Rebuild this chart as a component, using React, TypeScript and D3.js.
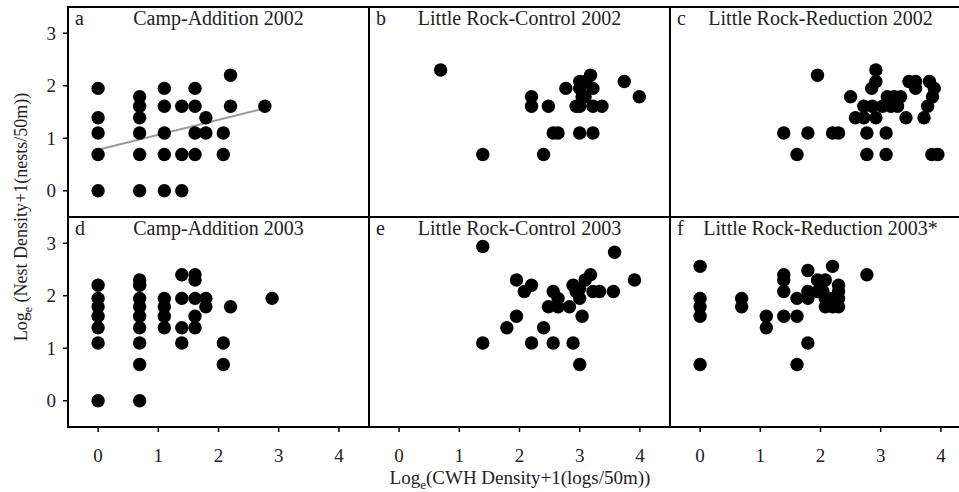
import React from "react";
import * as d3 from "d3";

const panelLetters = ["a", "b", "c", "d", "e", "f"];
const panelTitles = [
  "Camp-Addition 2002",
  "Little Rock-Control 2002",
  "Little Rock-Reduction 2002",
  "Camp-Addition 2003",
  "Little Rock-Control 2003",
  "Little Rock-Reduction 2003*",
];
const xTicks = [0, 1, 2, 3, 4];
const yTicks = [0, 1, 2, 3];

const campAdd2002: [number, number][] = [
  [0, 1.95], [0, 1.39], [0, 1.1], [0, 0.69], [0, 0],
  [0.69, 1.79], [0.69, 1.61], [0.69, 1.39], [0.69, 1.1], [0.69, 0.69], [0.69, 0],
  [1.1, 1.95], [1.1, 1.61], [1.1, 1.1], [1.1, 0.69], [1.1, 0],
  [1.39, 1.61], [1.39, 0.69], [1.39, 0],
  [1.61, 1.95], [1.61, 1.61], [1.61, 1.1], [1.61, 0.69],
  [1.79, 1.39], [1.79, 1.1],
  [2.08, 1.1], [2.08, 0.69],
  [2.2, 2.2], [2.2, 1.61],
  [2.77, 1.61],
];
const campAdd2002Fit = [[0, 0.78], [2.77, 1.57]];

const lrControl2002: [number, number][] = [
  [0.69, 2.3], [1.39, 0.69], [2.4, 0.69], [2.2, 1.79], [2.2, 1.61], [2.48, 1.61],
  [2.56, 1.1], [2.64, 1.1], [2.77, 1.95], [3.0, 1.1], [3.22, 1.1], [3.18, 2.2],
  [3.0, 2.08], [3.09, 2.08], [3.0, 1.95], [3.22, 1.95], [3.04, 1.79], [3.09, 1.79],
  [2.94, 1.61], [3.0, 1.61], [3.22, 1.61], [3.37, 1.61], [3.74, 2.08], [3.99, 1.79],
];

const lrReduction2002: [number, number][] = [
  [1.95, 2.2], [1.39, 1.1], [1.79, 1.1], [1.61, 0.69], [2.2, 1.1], [2.3, 1.1],
  [2.77, 1.1], [3.09, 1.1], [2.77, 0.69], [3.09, 0.69], [3.85, 0.69], [3.95, 0.69],
  [2.92, 2.3], [2.92, 2.08], [2.85, 1.95], [2.5, 1.79], [2.72, 1.61], [2.86, 1.61],
  [2.58, 1.39], [2.72, 1.39], [2.92, 1.39], [3.03, 1.61], [3.17, 1.61], [3.28, 1.61],
  [3.11, 1.79], [3.22, 1.79], [3.33, 1.79], [3.42, 1.39], [3.72, 1.39],
  [3.47, 2.08], [3.58, 2.08], [3.58, 1.95], [3.81, 2.08], [3.89, 1.95], [3.86, 1.79],
  [3.78, 1.61],
];

const campAdd2003: [number, number][] = [
  [0, 2.2], [0, 1.95], [0, 1.79], [0, 1.61], [0, 1.39], [0, 1.1], [0, 0],
  [0.69, 2.3], [0.69, 2.2], [0.69, 1.95], [0.69, 1.79], [0.69, 1.61], [0.69, 1.39],
  [0.69, 1.1], [0.69, 0.69], [0.69, 0],
  [1.1, 1.95], [1.1, 1.79], [1.1, 1.61], [1.1, 1.39],
  [1.39, 2.4], [1.39, 1.95], [1.39, 1.39], [1.39, 1.1],
  [1.61, 2.4], [1.61, 2.3], [1.61, 1.95], [1.61, 1.61], [1.61, 1.39],
  [1.79, 1.95], [1.79, 1.79],
  [2.2, 1.79], [2.08, 1.1], [2.08, 0.69],
  [2.89, 1.95],
];

const lrControl2003: [number, number][] = [
  [1.39, 2.94], [1.39, 1.1], [3.58, 2.83], [3.91, 2.3], [1.95, 2.3], [2.2, 2.2],
  [2.08, 2.08], [1.95, 1.61], [1.79, 1.39], [2.2, 1.1], [2.4, 1.39], [2.56, 1.1],
  [2.89, 1.1], [3.0, 0.69], [3.04, 1.61], [2.48, 1.79], [2.64, 1.79], [2.83, 1.79],
  [2.56, 2.08], [2.64, 1.95], [2.89, 2.2], [2.94, 2.08], [3.0, 1.95], [3.0, 2.14],
  [3.09, 2.3], [3.18, 2.4], [3.22, 2.08], [3.33, 2.08], [3.56, 2.08],
];

const lrReduction2003: [number, number][] = [
  [0, 2.56], [0, 1.95], [0, 1.79], [0, 1.61], [0, 0.69],
  [0.69, 1.95], [0.69, 1.79],
  [1.1, 1.61], [1.1, 1.39],
  [1.39, 2.4], [1.39, 2.3], [1.39, 2.08], [1.39, 1.61],
  [1.61, 1.95], [1.61, 1.61], [1.61, 0.69],
  [1.79, 2.48], [1.79, 2.08], [1.79, 1.95], [1.79, 1.1],
  [2.2, 2.56], [1.95, 2.3], [2.08, 2.3], [1.95, 2.08], [2.04, 2.08],
  [2.08, 1.95], [2.08, 1.79], [2.2, 1.95], [2.2, 1.79],
  [2.3, 2.2], [2.3, 2.08], [2.3, 1.95], [2.3, 1.79],
  [2.77, 2.4],
];

const panelData = [campAdd2002, lrControl2002, lrReduction2002, campAdd2003, lrControl2003, lrReduction2003];

const FONT = "'Liberation Serif', 'Times New Roman', serif";
const W = 959;
const H = 492;
const pLeft = [68, 369, 670];
const pTop = [7, 217];
const pw = 301;
const ph = 210;

export default function App() {
  const x = d3.scaleLinear().domain([-0.5, 4.5]).range([0, pw]);
  const y = d3.scaleLinear().domain([-0.5, 3.5]).range([ph, 0]);
  const line = d3.line<number[]>().x((d) => x(d[0])).y((d) => y(d[1]));

  return (
    <div style={{ position: "fixed", left: 0, top: 0, background: "#fff" }}>
      <svg width={W} height={H} style={{ display: "block", fontFamily: FONT }}>
        <rect width={W} height={H} fill="#fff" />
        {panelData.map((pts, i) => {
          const col = i % 3;
          const row = Math.floor(i / 3);
          const tx = pLeft[col];
          const ty = pTop[row];
          return (
            <g key={i} transform={`translate(${tx},${ty})`}>
              <rect x={0} y={0} width={pw} height={ph} fill="none" stroke="#000" strokeWidth={2} />
              <text x={7} y={18} fontSize={20} fill="#222">{panelLetters[i]}</text>
              <text x={pw / 2} y={18} fontSize={20} textAnchor="middle" fill="#222">{panelTitles[i]}</text>
              {i === 0 && (
                <path d={line(campAdd2002Fit) || ""} stroke="#9a9a9a" strokeWidth={2} fill="none" />
              )}
              {pts.map((p, j) => (
                <circle key={j} cx={x(p[0])} cy={y(p[1])} r={6.7} fill="#000" />
              ))}
              {col === 0 &&
                yTicks.map((t) => (
                  <g key={t} transform={`translate(0,${y(t)})`}>
                    <line x1={-5} x2={0} stroke="#000" strokeWidth={1.5} />
                    <text x={-12} dy="0.35em" fontSize={19} textAnchor="end" fill="#222">{t}</text>
                  </g>
                ))}
              {row === 1 &&
                xTicks.map((t) => (
                  <g key={t} transform={`translate(${x(t)},${ph})`}>
                    <line y1={0} y2={5} stroke="#000" strokeWidth={1.5} />
                    <text y={35} fontSize={19} textAnchor="middle" fill="#222">{t}</text>
                  </g>
                ))}
            </g>
          );
        })}
        <text x={520} y={484} fontSize={19} textAnchor="middle" fill="#222">
          Log<tspan fontSize={13} dy={5}>e</tspan>
          <tspan dy={-5}>(CWH Density+1(logs/50m))</tspan>
        </text>
        <text transform="translate(27,217) rotate(-90)" fontSize={18} textAnchor="middle" fill="#222">
          Log<tspan fontSize={12} dy={5}>e</tspan>
          <tspan dy={-5}> (Nest Density+1(nests/50m))</tspan>
        </text>
      </svg>
    </div>
  );
}
